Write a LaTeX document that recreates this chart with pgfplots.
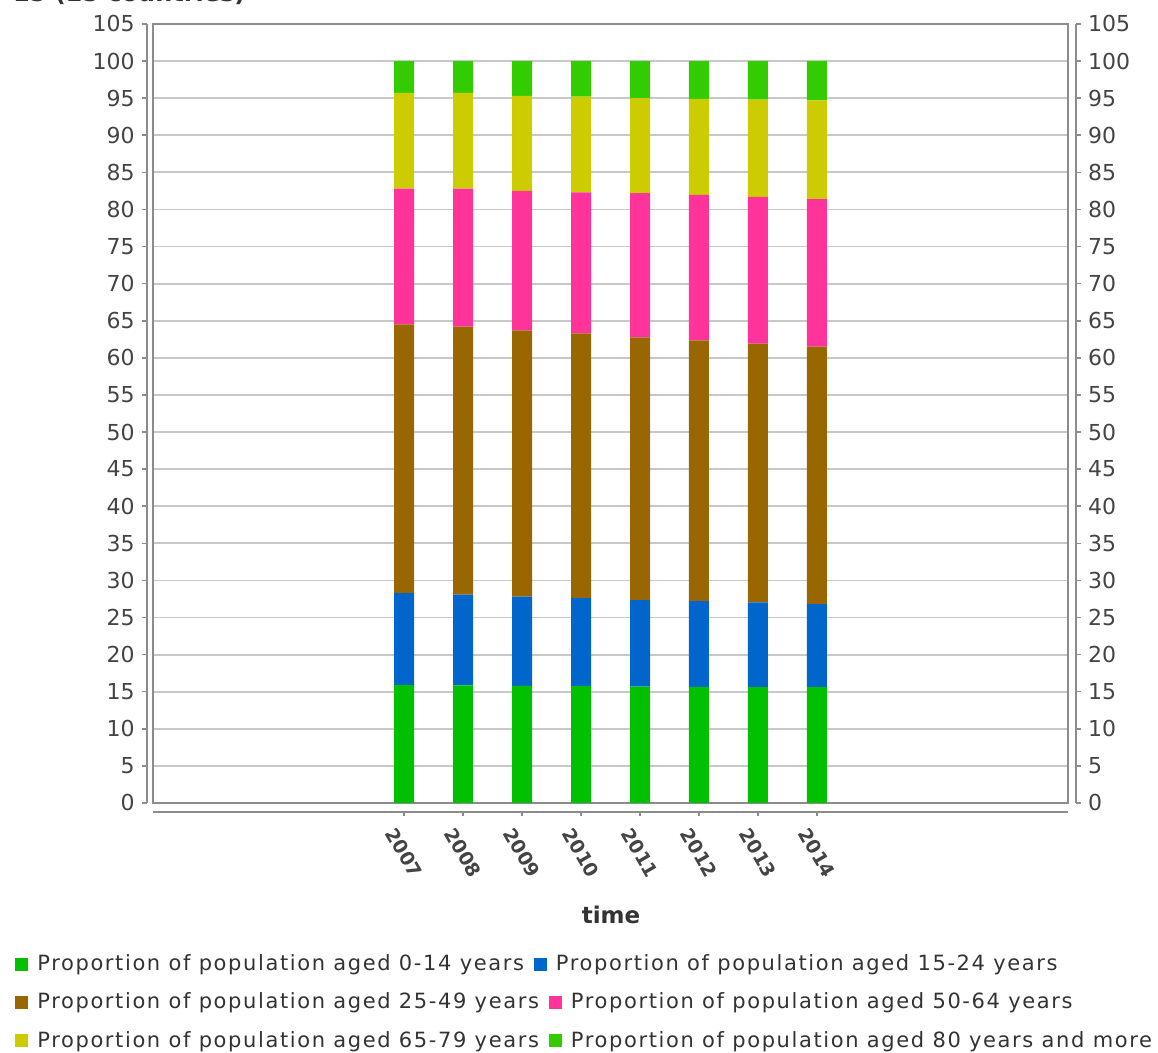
\documentclass[border=0pt]{standalone}
\usepackage{pgfplots}
\pgfplotsset{compat=1.18}
\usepackage{pgfplotstable}
\usepackage{fontspec}
\setmainfont{DejaVu Sans}
\newfontfamily\legfont[LetterSpace=7.7]{DejaVu Sans}
\definecolor{cA}{HTML}{00C000}
\definecolor{cB}{HTML}{0066CC}
\definecolor{cC}{HTML}{996600}
\definecolor{cD}{HTML}{FF3399}
\definecolor{cE}{HTML}{CCCC00}
\definecolor{cF}{HTML}{33CC00}
\definecolor{gridc}{HTML}{C8C8C8}
\definecolor{axc}{HTML}{8C8C8C}
\definecolor{tickc}{HTML}{444444}
\definecolor{legc}{HTML}{333333}
\pgfplotstableread{
x A B C D E F
0 15.9 12.4 36.2 18.3 12.9 4.3
1 15.85 12.25 36.1 18.6 12.9 4.3
2 15.8 12.0 35.9 18.8 12.8 4.7
3 15.75 11.85 35.7 19.0 12.9 4.8
4 15.7 11.65 35.4 19.45 12.8 5.0
5 15.65 11.55 35.15 19.6 12.95 5.1
6 15.6 11.45 34.85 19.8 13.1 5.2
7 15.6 11.2 34.7 19.9 13.3 5.3
}\datatable
\newcommand{\legsq}[1]{\textcolor{#1}{\rule{6.5pt}{6.5pt}}}
\begin{document}
\begin{tikzpicture}
\useasboundingbox (0,0) rectangle (579pt,526.5pt);
% partially visible title
\node[anchor=base west, inner sep=0pt, font=\fontsize{12}{14}\selectfont\bfseries, text=legc] at (6.3pt,525.5pt) {15 (15 countries)};
% main plot area
\begin{axis}[
  at={(76.65pt,125pt)}, anchor=south west,
  scale only axis, width=457.5pt, height=389.5pt,
  xmin=-4.25, xmax=11.26, ymin=0, ymax=105,
  ytick={0,5,...,105}, yticklabels={},
  xtick=\empty,
  major tick length=0pt,
  ymajorgrids, grid style={gridc, line width=0.9pt},
  axis line style={axc, line width=0.9pt},
  ybar stacked, bar width=10pt,
]
\addplot[fill=cA, draw=none] table[x=x, y=A] {\datatable};
\addplot[fill=cB, draw=none] table[x=x, y=B] {\datatable};
\addplot[fill=cC, draw=none] table[x=x, y=C] {\datatable};
\addplot[fill=cD, draw=none] table[x=x, y=D] {\datatable};
\addplot[fill=cE, draw=none] table[x=x, y=E] {\datatable};
\addplot[fill=cF, draw=none] table[x=x, y=F] {\datatable};
\end{axis}
% left y axis
\begin{axis}[
  at={(73.3pt,125pt)}, anchor=south west,
  scale only axis, width=464.7pt, height=389.5pt,
  xmin=0, xmax=1, ymin=0, ymax=105,
  axis x line=none, axis y line*=left,
  axis line style={axc, line width=0.9pt, -},
  ytick={0,5,...,105},
  tick align=outside, major tick length=2.5pt,
  tick style={axc, line width=0.8pt},
  yticklabel style={text=tickc, font=\fontsize{11}{13}\selectfont, /pgf/number format/assume math mode=true},
]
\end{axis}
% right y axis
\begin{axis}[
  at={(73.3pt,125pt)}, anchor=south west,
  scale only axis, width=464.7pt, height=389.5pt,
  xmin=0, xmax=1, ymin=0, ymax=105,
  axis x line=none, axis y line*=right,
  axis line style={axc, line width=0.9pt, -},
  ytick={0,5,...,105},
  tick align=outside, major tick length=2.5pt,
  tick style={axc, line width=0.8pt},
  yticklabel style={text=tickc, font=\fontsize{11}{13}\selectfont, /pgf/number format/assume math mode=true},
]
\end{axis}
% bottom x axis (offset)
\begin{axis}[
  at={(76.65pt,120.65pt)}, anchor=south west,
  scale only axis, width=457.5pt, height=389.5pt,
  xmin=-4.25, xmax=11.26, ymin=0, ymax=1,
  axis y line=none, axis x line*=bottom,
  axis line style={axc, line width=0.9pt, -},
  xtick={0,...,7},
  xticklabels={2007,2008,2009,2010,2011,2012,2013,2014},
  tick align=outside, major tick length=2pt,
  tick style={axc, line width=0.8pt},
  xticklabel style={text=tickc, font=\fontsize{9.5}{11}\selectfont\bfseries, anchor=center, yshift=-18.5pt, rotate=-60},
]
\end{axis}
\node[font=\fontsize{11.5}{14}\selectfont\bfseries, text=legc] at (305.5pt,69pt) {time};
\node[anchor=west, inner sep=0pt, font=\fontsize{10.5}{13}\legfont, text=legc] at (7.5pt,44pt) {\legsq{cA}\hspace{4.5pt}Proportion of population aged 0-14 years\hspace{5pt}\legsq{cB}\hspace{4.5pt}Proportion of population aged 15-24 years};
\node[anchor=west, inner sep=0pt, font=\fontsize{10.5}{13}\legfont, text=legc] at (7.5pt,25pt) {\legsq{cC}\hspace{4.5pt}Proportion of population aged 25-49 years\hspace{5pt}\legsq{cD}\hspace{4.5pt}Proportion of population aged 50-64 years};
\node[anchor=west, inner sep=0pt, font=\fontsize{10.5}{13}\legfont, text=legc] at (7.5pt,5.7pt) {\legsq{cE}\hspace{4.5pt}Proportion of population aged 65-79 years\hspace{5pt}\legsq{cF}\hspace{4.5pt}Proportion of population aged 80 years and more};
\end{tikzpicture}
\end{document}
